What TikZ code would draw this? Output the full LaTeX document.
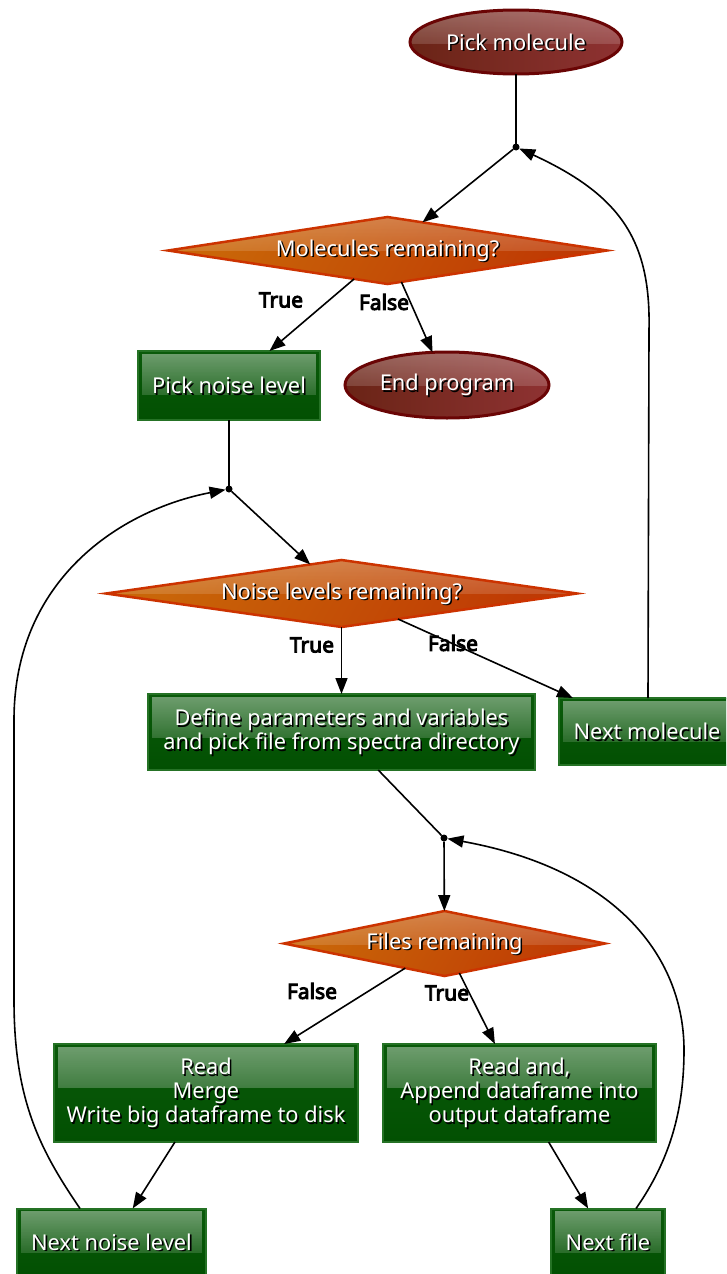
\documentclass[tikz,border=0pt]{standalone}
\usepackage{fontspec}
\setmainfont{Noto Sans}
\newfontfamily\labelfont{Noto Sans}[AutoFakeBold=4.5]
\usetikzlibrary{shapes.geometric, arrows.meta, fadings, calc}

\definecolor{termL}{HTML}{6A2416}
\definecolor{termR}{HTML}{8E3232}
\definecolor{termLine}{HTML}{6A0505}
\definecolor{decL}{HTML}{C96608}
\definecolor{decR}{HTML}{BF3A04}
\definecolor{decLine}{HTML}{CC3300}
\definecolor{procFill}{HTML}{025002}
\definecolor{procTop}{HTML}{0A5A0A}
\definecolor{procLine}{HTML}{257225}

\tikzfading[name=shine, top color=transparent!40, bottom color=transparent!100]

\tikzset{
  x=1pt, y=-1pt,
  every node/.style={inner sep=0pt, outer sep=0pt},
  nodetext/.style={font=\fontsize{21.8}{24}\selectfont, align=center},
  txtmain/.style={nodetext, text=white},
  txtshade/.style={nodetext, text=black},
  terminal/.style={ellipse, draw=termLine, line width=3pt,
    left color=termL, right color=termR,
    path picture={\fill[white, path fading=shine, opacity=0.5]
      (path picture bounding box.north west) rectangle
      ([yshift=-34pt]path picture bounding box.north east);}},
  decision/.style={diamond, draw=decLine, line width=2.5pt,
    shading=axis, left color=decL, right color=decR, shading angle=60,
    path picture={\fill[white, path fading=shine, opacity=0.45]
      (path picture bounding box.north west) rectangle
      ([yshift=-34pt]path picture bounding box.north east);}},
  process/.style={rectangle, draw=procLine, line width=2pt,
    top color=procTop, bottom color=procFill,
    path picture={\fill[white, path fading=shine, opacity=0.7]
      ([shift={(4pt,-3pt)}]path picture bounding box.north west) rectangle
      ([shift={(-4pt,-44pt)}]path picture bounding box.north east);}},
  junction/.style={circle, fill=black, minimum size=7pt},
  flow/.style={line width=1.6pt, -{Triangle[length=16pt,width=12pt]}},
  plain/.style={line width=1.6pt},
  lbl/.style={font=\labelfont\fontsize{21}{24}\selectfont\bfseries, text=black},
}

% shape node with a drop-shadowed caption: style, name, position, text
\newcommand\flownode[4]{%
  \node[#1] (#2) at (#3) {};
  \node[txtshade] (#2-shade) at ($(#2.center)+(1.6,1.6)$) {#4};
  \node[txtmain] (#2-text) at (#2.center) {#4};
}

\begin{document}
\begin{tikzpicture}
  \useasboundingbox (0,0) rectangle (726,1274);
  \clip (0,0) rectangle (726,1274);

  % nodes
  \flownode{terminal, minimum width=212pt, minimum height=64pt}{pick}{516,42}{Pick molecule}
  \node[junction] (j1) at (516,147) {};
  \flownode{decision, minimum width=439pt, minimum height=67pt}{molrem}{387.5,250.5}{Molecules remaining?}
  \flownode{process, minimum width=182pt, minimum height=69pt}{noise}{229,385.5}{Pick noise level}
  \flownode{terminal, minimum width=204pt, minimum height=66pt}{endp}{447,385}{End program}
  \node[junction] (j2) at (229,489) {};
  \flownode{decision, minimum width=471pt, minimum height=67pt}{noirem}{341.5,593.5}{Noise levels remaining?}
  \flownode{process, minimum width=387pt, minimum height=76pt}{define}{341.5,732}{Define parameters and variables\\and pick file from spectra directory}
  \flownode{process, minimum width=176pt, minimum height=67pt}{nextmol}{647,731.5}{Next molecule}
  \node[junction] (j3) at (444,838) {};
  \flownode{decision, minimum width=321pt, minimum height=65pt}{filrem}{444.5,943.5}{Files remaining}
  \flownode{process, minimum width=304pt, minimum height=98pt}{merge}{206,1093}{Read\\Merge\\Write big dataframe to disk}
  \flownode{process, minimum width=273pt, minimum height=98pt}{append}{519.5,1093}{Read and,\\Append dataframe into\\output dataframe}
  \flownode{process, minimum width=189pt, minimum height=67pt}{nextnoise}{111.5,1242}{Next noise level}
  \flownode{process, minimum width=114pt, minimum height=67pt}{nextfile}{608,1242}{Next file}

  % connectors
  \draw[plain] (pick) -- (j1);
  \draw[flow] (j1) -- (molrem);
  \draw[flow] (molrem) -- (noise) node[lbl] at (281,300) {True};
  \draw[flow] (molrem) -- (endp) node[lbl] at (384,302) {False};
  \draw[plain] (noise) -- (j2);
  \draw[flow] (j2) -- (noirem);
  \draw[flow] (noirem.south) -- (define) node[lbl] at (312,645) {True};
  \draw[flow] (noirem) -- (nextmol) node[lbl] at (453,643) {False};
  \draw[plain] (define) -- (j3);
  \draw[flow] (j3) -- (filrem);
  \draw[flow] (filrem) -- (merge) node[lbl] at (312,991) {False};
  \draw[flow] (filrem) -- (append) node[lbl] at (447,993) {True};
  \draw[flow] (merge) -- (nextnoise);
  \draw[flow] (append) -- (nextfile);

  % loop-back connectors
  \draw[flow] (nextmol.north -| 648,0) -- (649,330)
    .. controls (651,240) and (620,195) .. (j1);
  \draw[flow] (nextnoise.north -| 80,0) .. controls (40,1150) and (14,1100) .. (14,1000)
    -- (14,720) .. controls (14,580) and (120,510) .. (j2);
  \draw[flow] (nextfile.north -| 636,0) .. controls (670,1160) and (684,1110) .. (684,1050)
    .. controls (684,960) and (620,870) .. (j3);
\end{tikzpicture}
\end{document}
